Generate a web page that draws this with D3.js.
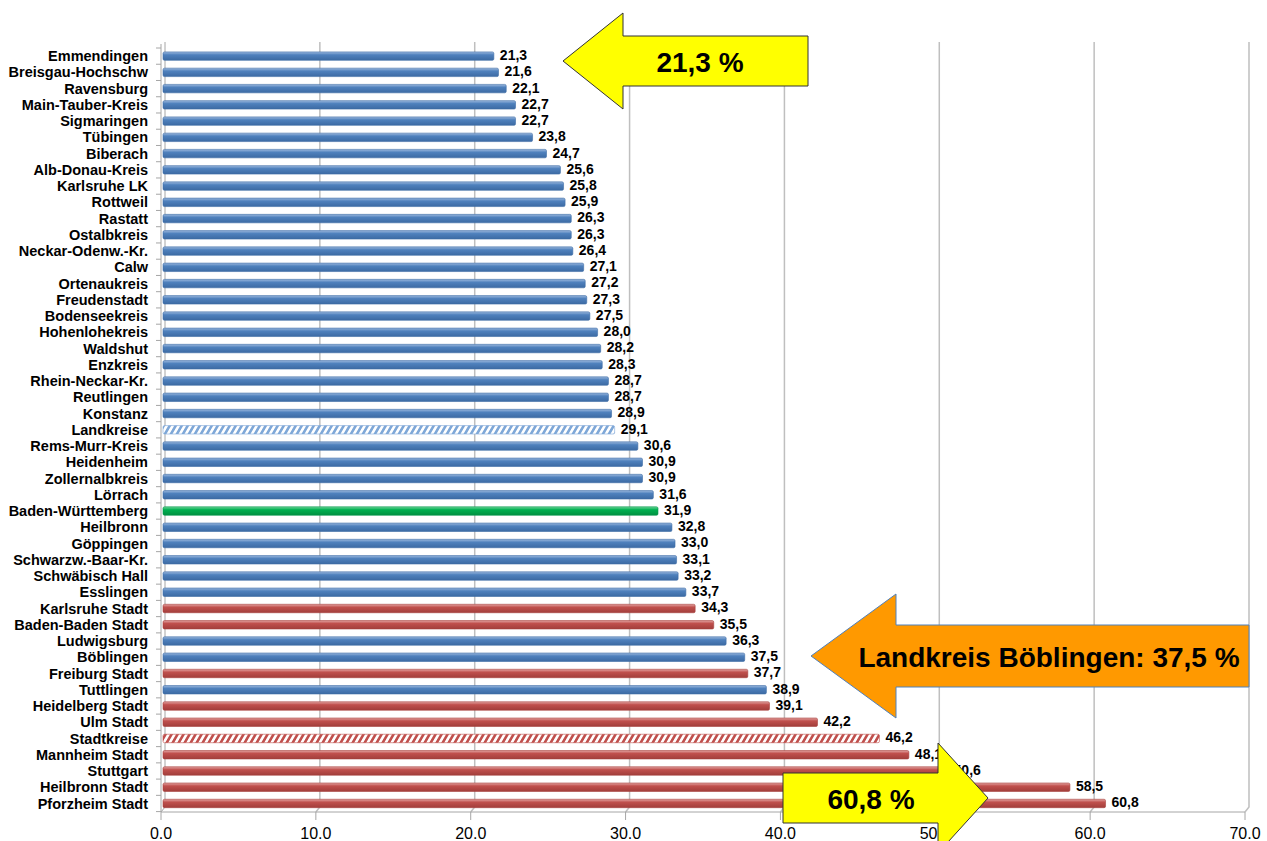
<!DOCTYPE html>
<html>
<head>
<meta charset="utf-8">
<script src="https://cdn.jsdelivr.net/npm/d3@7"></script>
<style>
  body { margin: 0; background: #fff; }
  text { font-family: Arial, "Liberation Sans", sans-serif; }
</style>
</head>
<body>
<script>
// categories top to bottom
const categories = ["Emmendingen", "Breisgau-Hochschw", "Ravensburg", "Main-Tauber-Kreis", "Sigmaringen",
  "Tübingen", "Biberach", "Alb-Donau-Kreis", "Karlsruhe LK", "Rottweil", "Rastatt", "Ostalbkreis",
  "Neckar-Odenw.-Kr.", "Calw", "Ortenaukreis", "Freudenstadt", "Bodenseekreis", "Hohenlohekreis",
  "Waldshut", "Enzkreis", "Rhein-Neckar-Kr.", "Reutlingen", "Konstanz", "Landkreise", "Rems-Murr-Kreis",
  "Heidenheim", "Zollernalbkreis", "Lörrach", "Baden-Württemberg", "Heilbronn", "Göppingen",
  "Schwarzw.-Baar-Kr.", "Schwäbisch Hall", "Esslingen", "Karlsruhe Stadt", "Baden-Baden Stadt",
  "Ludwigsburg", "Böblingen", "Freiburg Stadt", "Tuttlingen", "Heidelberg Stadt", "Ulm Stadt",
  "Stadtkreise", "Mannheim Stadt", "Stuttgart", "Heilbronn Stadt", "Pforzheim Stadt"];

const values = [21.3, 21.6, 22.1, 22.7, 22.7, 23.8, 24.7, 25.6, 25.8, 25.9, 26.3, 26.3, 26.4, 27.1,
  27.2, 27.3, 27.5, 28.0, 28.2, 28.3, 28.7, 28.7, 28.9, 29.1, 30.6, 30.9, 30.9, 31.6, 31.9, 32.8,
  33.0, 33.1, 33.2, 33.7, 34.3, 35.5, 36.3, 37.5, 37.7, 38.9, 39.1, 42.2, 46.2, 48.1, 50.6, 58.5, 60.8];

// kreis = Landkreis, stadt = Stadtkreis, lk/sk = averages, bw = state
const groups = ["kreis", "kreis", "kreis", "kreis", "kreis", "kreis", "kreis", "kreis", "kreis", "kreis",
  "kreis", "kreis", "kreis", "kreis", "kreis", "kreis", "kreis", "kreis", "kreis", "kreis", "kreis",
  "kreis", "kreis", "lk", "kreis", "kreis", "kreis", "kreis", "bw", "kreis", "kreis", "kreis", "kreis",
  "kreis", "stadt", "stadt", "kreis", "kreis", "stadt", "kreis", "stadt", "stadt", "sk", "stadt",
  "stadt", "stadt", "stadt"];

const xTicks = [0, 10, 20, 30, 40, 50, 60, 70];

const callouts = [
  { text: "21,3 %", dir: "left", tipX: 563, cy: 61, headX: 623, endX: 808, shaftH: 25, headH: 48, textX: 700, fill: "#FFFF00", stroke: "#333", size: 28 },
  { text: "Landkreis Böblingen: 37,5 %", dir: "left", tipX: 811, cy: 656, headX: 896, endX: 1249, shaftH: 31, headH: 62, textX: 1049, fill: "#FF9900", stroke: "#4F81BD", size: 28 },
  { text: "60,8 %", dir: "right", tipX: 988, cy: 798, headX: 938, endX: 783, shaftH: 25, headH: 55, textX: 871, fill: "#FFFF00", stroke: "#333", size: 28 }
];

const W = 1267, H = 841;
const depth = 4;

const svg = d3.select("body").append("svg")
  .attr("width", W)
  .attr("height", H);

const defs = svg.append("defs");

function barGrad(id, light, mid, dark) {
  const g = defs.append("linearGradient").attr("id", id)
    .attr("x1", 0).attr("y1", 0).attr("x2", 0).attr("y2", 1);
  g.append("stop").attr("offset", "0%").attr("stop-color", light);
  g.append("stop").attr("offset", "35%").attr("stop-color", mid);
  g.append("stop").attr("offset", "100%").attr("stop-color", dark);
}
barGrad("gBlue", "#9DB9DE", "#4F81BD", "#3C6AA3");
barGrad("gRed", "#E3A5A3", "#C0504D", "#A23E3B");
barGrad("gGreen", "#6FD79A", "#00B050", "#009040");

function hatch(id, color) {
  const p = defs.append("pattern").attr("id", id)
    .attr("patternUnits", "userSpaceOnUse")
    .attr("width", 6).attr("height", 8)
    .attr("patternTransform", "skewX(-30)");
  p.append("rect").attr("width", 6).attr("height", 8).attr("fill", "#fff");
  p.append("rect").attr("x", 0).attr("width", 3).attr("height", 8).attr("fill", color);
}
hatch("hBlue", "#7FA8D8");
hatch("hRed", "#C0504D");

const fills = { kreis: "url(#gBlue)", stadt: "url(#gRed)", bw: "url(#gGreen)", lk: "url(#hBlue)", sk: "url(#hRed)" };
const edges = { kreis: "#3E6DA6", stadt: "#A8413E", bw: "#00954A", lk: "#7FA8D8", sk: "#C0504D" };

const x = d3.scaleLinear().domain([0, 70]).range([161, 1245]);
const y = d3.scaleBand().domain(categories).range([48, 811.6])
  .paddingInner(0.48).paddingOuter(0.24);

const data = categories.map((c, i) => ({ name: c, value: values[i], group: groups[i] }));
const fmt = v => d3.format(".1f")(v).replace(".", ",");

// grid lines with 3D floor bend
svg.append("g").selectAll("path").data(xTicks.slice(1)).join("path")
  .attr("d", t => `M ${x(t) + depth} 42 V 807 L ${x(t)} 812`)
  .attr("stroke", "#BFBFBF")
  .attr("stroke-width", 1.5)
  .attr("fill", "none");

// back wall edge and floor
svg.append("path")
  .attr("d", `M ${x(0) + depth} 42 V 807 L ${x(0)} 812 H ${x(70)}`)
  .attr("stroke", "#A6A6A6")
  .attr("fill", "none");

// left axis with ticks
const yTicks = d3.range(categories.length + 1).map(i => 48 + i * y.step());
svg.append("path")
  .attr("d", `M ${x(0)} 44 V 812`)
  .attr("stroke", "#A6A6A6")
  .attr("fill", "none");
svg.append("g").selectAll("line").data(yTicks).join("line")
  .attr("x1", x(0) - 5).attr("x2", x(0))
  .attr("y1", d => d).attr("y2", d => d)
  .attr("stroke", "#A6A6A6");

// bottom ticks
svg.append("g").selectAll("line").data(xTicks).join("line")
  .attr("x1", d => x(d)).attr("x2", d => x(d))
  .attr("y1", 812).attr("y2", 820)
  .attr("stroke", "#A6A6A6");

// bars
svg.append("g").selectAll("rect").data(data).join("rect")
  .attr("x", x(0) + 2)
  .attr("y", d => y(d.name))
  .attr("width", d => x(d.value) - x(0) + 1)
  .attr("height", y.bandwidth())
  .attr("rx", 1.5)
  .attr("fill", d => fills[d.group])
  .attr("stroke", d => edges[d.group])
  .attr("stroke-width", 0.6);

// category labels
svg.append("g").selectAll("text").data(data).join("text")
  .attr("x", 148)
  .attr("y", d => y(d.name) + y.bandwidth() / 2)
  .attr("dy", "0.35em")
  .attr("text-anchor", "end")
  .attr("font-size", 14.5)
  .attr("font-weight", "bold")
  .text(d => d.name);

// value labels
svg.append("g").selectAll("text").data(data).join("text")
  .attr("x", d => x(d.value) + 9)
  .attr("y", d => y(d.name) + y.bandwidth() / 2 - 1)
  .attr("dy", "0.35em")
  .attr("font-size", 14)
  .attr("font-weight", "bold")
  .text(d => fmt(d.value));

// x tick labels
svg.append("g").selectAll("text").data(xTicks).join("text")
  .attr("x", d => x(d))
  .attr("y", 839)
  .attr("text-anchor", "middle")
  .attr("font-size", 16)
  .text(d => d3.format(".1f")(d));

// call-out arrows
callouts.forEach(c => {
  const d = `M ${c.tipX} ${c.cy} L ${c.headX} ${c.cy - c.headH} V ${c.cy - c.shaftH} H ${c.endX}` +
    ` V ${c.cy + c.shaftH} H ${c.headX} V ${c.cy + c.headH} Z`;
  svg.append("path")
    .attr("d", d)
    .attr("fill", c.fill)
    .attr("stroke", c.stroke)
    .attr("stroke-width", 1);
  svg.append("text")
    .attr("x", c.textX)
    .attr("y", c.cy + 1)
    .attr("dy", "0.35em")
    .attr("text-anchor", "middle")
    .attr("font-size", c.size)
    .attr("font-weight", "bold")
    .text(c.text);
});
</script>
</body>
</html>
